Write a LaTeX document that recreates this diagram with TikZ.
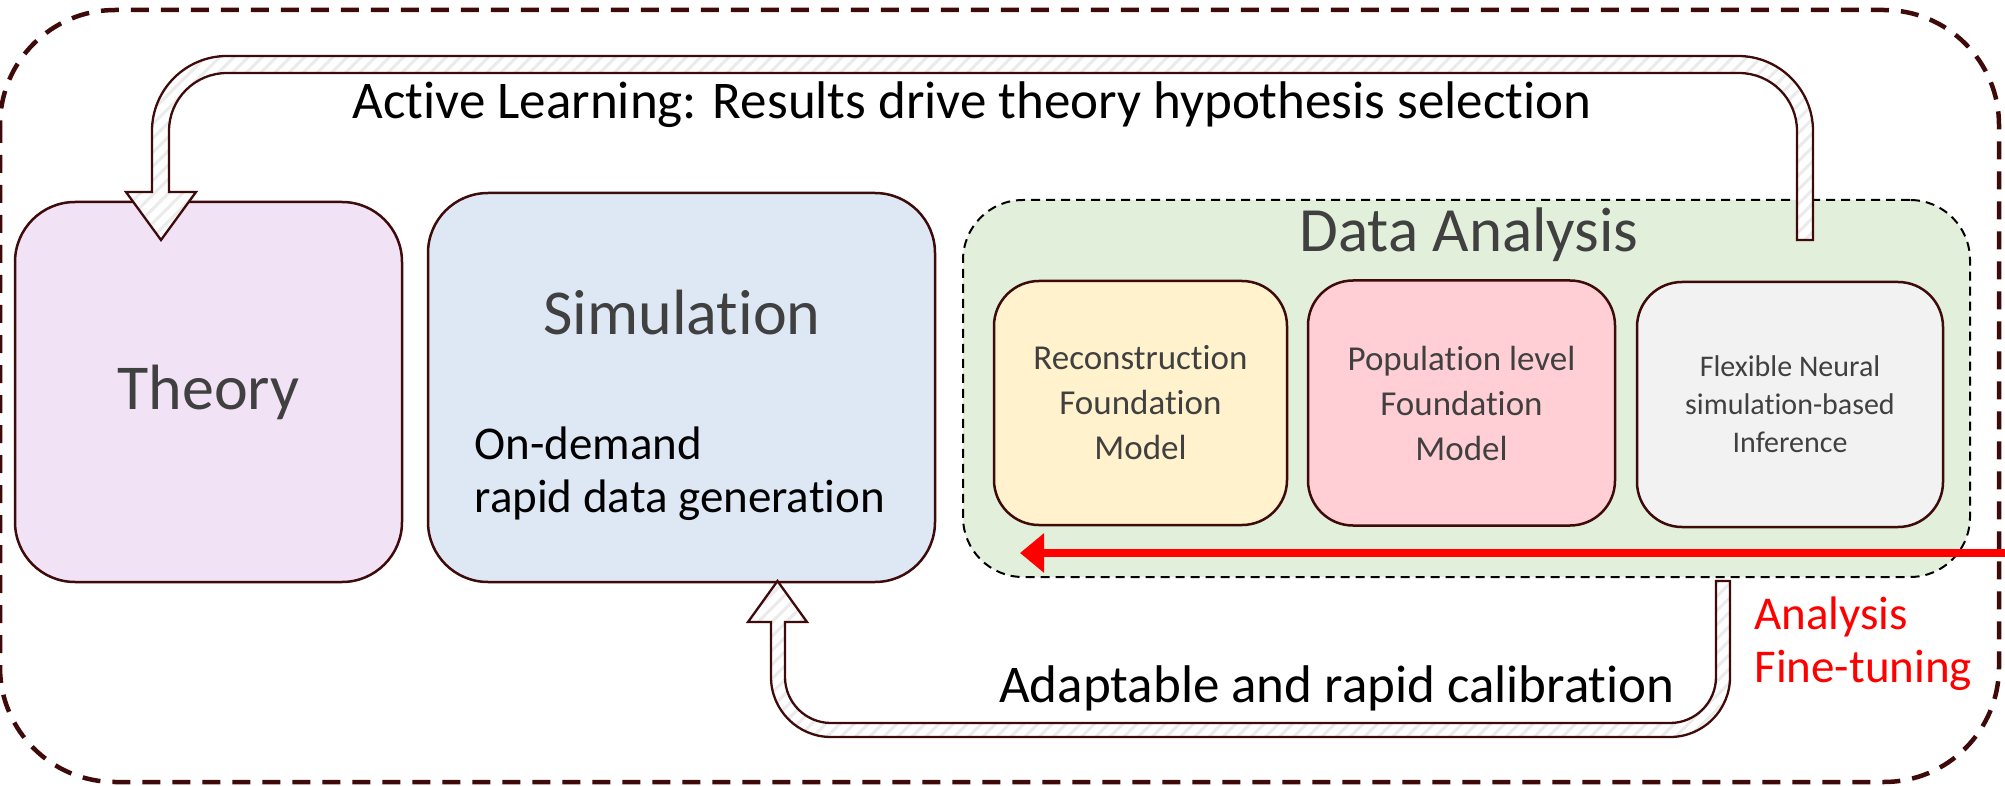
\documentclass[tikz,border=0pt]{standalone}
\usepackage{fontspec}
\setmainfont[Ligatures={NoCommon,NoDiscretionary,NoContextual}]{Carlito}
\usetikzlibrary{patterns.meta,arrows.meta}
\definecolor{edge}{HTML}{3F0A0A}
\definecolor{txtgrey}{HTML}{404040}
\definecolor{theoryfill}{HTML}{F2E2F5}
\definecolor{simfill}{HTML}{DEE8F4}
\definecolor{dafill}{HTML}{E2EFDA}
\definecolor{recfill}{HTML}{FFF2CC}
\definecolor{popfill}{HTML}{FFCFD5}
\definecolor{flexfill}{HTML}{F2F2F2}
\definecolor{hatch}{HTML}{EBEBEB}
\definecolor{redarrow}{HTML}{FF0000}
\tikzset{
  bigbox/.style={draw=edge, line width=2.5pt, rounded corners=60pt, inner sep=0pt},
  smallbox/.style={draw=edge, line width=2.5pt, rounded corners=45pt, inner sep=0pt,
    text=txtgrey, align=center},
  hollow/.style={draw=edge, line width=2.3pt, preaction={fill=white},
    pattern={Lines[angle=45,distance=10pt,line width=3pt]}, pattern color=hatch},
  frame/.style={draw=edge, line width=4.5pt, dash pattern=on 18pt off 12pt, rounded corners=115pt},
  dabox/.style={draw=black, fill=dafill, line width=2pt, dash pattern=on 9pt off 6pt,
    rounded corners=60pt, inner sep=0pt},
}
\begin{document}
\begin{tikzpicture}[x=1pt,y=1pt]
\useasboundingbox (0,0) rectangle (2005,-786);
% outer frame
\draw[frame] (0,-10) rectangle (1999,-782);

% main boxes
\node[bigbox, fill=theoryfill, minimum width=387pt, minimum height=380pt,
  text=txtgrey, font=\fontsize{64}{77}\selectfont] (theory) at (208.5,-392) {Theory};
\node[bigbox, fill=simfill, minimum width=507pt, minimum height=389pt] (sim) at (681.5,-387.5) {};
\node[text=txtgrey, font=\fontsize{64}{77}\selectfont] (simtitle) at (682,-313) {Simulation};
\node[anchor=west, align=left, font=\fontsize{47}{53}\selectfont] (simtext) at (471,-474)
  {On-demand\\rapid data generation};

\node[dabox, minimum width=1007pt, minimum height=377pt] (da) at (1466.5,-388.5) {};
\node[text=txtgrey, font=\fontsize{63}{75}\selectfont] (datitle) at (1469,-235) {Data Analysis};

\node[smallbox, fill=recfill, minimum width=293pt, minimum height=244pt,
  font=\fontsize{35}{45}\selectfont] (rec) at (1140.5,-403) {Reconstruction\\Foundation\\Model};
\node[smallbox, fill=popfill, minimum width=307pt, minimum height=245pt,
  font=\fontsize{35}{45}\selectfont] (pop) at (1461.5,-403) {Population level\\Foundation\\Model};
\node[smallbox, fill=flexfill, minimum width=306pt, minimum height=245pt,
  font=\fontsize{30}{38}\selectfont] (flex) at (1790,-404.5) {Flexible Neural\\simulation-based\\Inference};

% top hollow arrow (Active Learning)
\draw[hollow] (1813,-240) -- (1813,-131) arc[start angle=0,end angle=90,radius=75pt]
  -- (227,-56) arc[start angle=90,end angle=180,radius=75pt]
  -- (152,-192) -- (126,-192) -- (161,-240) -- (196,-192) -- (169,-192)
  -- (169,-131) arc[start angle=180,end angle=90,radius=58pt]
  -- (1739,-73) arc[start angle=90,end angle=0,radius=58pt]
  -- (1797,-240) -- cycle;
\node[font=\fontsize{53}{64}\selectfont] (altext) at (972,-105)
  {Active Learning: Results drive theory hypothesis selection};

% bottom hollow arrow (calibration)
\draw[hollow] (1716,-581) -- (1716,-677) arc[start angle=0,end angle=-90,radius=46pt]
  -- (831,-723) arc[start angle=270,end angle=180,radius=46pt]
  -- (785,-622) -- (807,-622) -- (777.5,-581) -- (748,-622) -- (771,-622)
  -- (771,-677) arc[start angle=180,end angle=270,radius=60pt]
  -- (1670,-737) arc[start angle=-90,end angle=0,radius=60pt]
  -- (1730,-581) -- cycle;
\node[font=\fontsize{53}{64}\selectfont] (caltext) at (1337,-688)
  {Adaptable and rapid calibration};

% red fine-tuning arrow
\coordinate (redstart) at (2010,-553);
\coordinate (redtip) at (1020,-553);
\draw[redarrow, line width=8pt, -{Triangle[length=24pt,width=38pt]}] (redstart) -- (redtip);
\node[anchor=west, align=left, text=redarrow, font=\fontsize{47}{53}\selectfont] (redtext) at (1751,-644)
  {Analysis\\Fine-tuning};
\end{tikzpicture}
\end{document}
